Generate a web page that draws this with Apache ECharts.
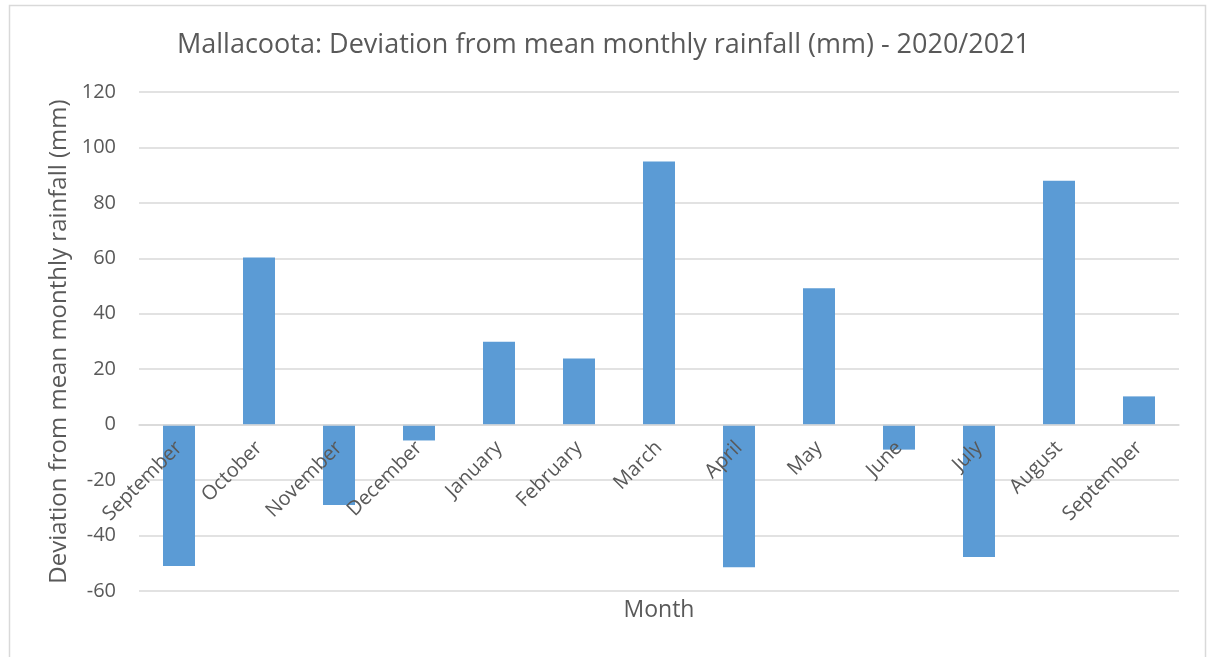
<!DOCTYPE html>
<html>
<head>
<meta charset="utf-8">
<title>Mallacoota rainfall deviation</title>
<script src="https://cdn.jsdelivr.net/npm/echarts@6/dist/echarts.min.js"></script>
<style>
    html, body { margin: 0; padding: 0; background: #fff; }
    #container { width: 1207px; height: 657px; }
</style>
</head>
<body>
<div id="container"></div>
<script>
let months = ['September', 'October', 'November', 'December', 'January', 'February',
    'March', 'April', 'May', 'June', 'July', 'August', 'September'];
let deviation = [-51.0, 60.3, -29.0, -5.7, 29.9, 23.9, 94.9, -51.4, 49.2, -9.0, -47.7, 88.0, 10.2];
let yTicks = [-60, -40, -20, 0, 20, 40, 60, 80, 100, 120];

let textColor = '#595959';
let gridColor = '#d9d9d9';

// plot box, in pixels
let gridTop = 92;
let gridBottom = 66;
let chartHeight = 657;
let yMin = yTicks[0];
let yMax = yTicks[yTicks.length - 1];

// the category axis sits on y = 0, so lift it from the bottom edge of the grid
let plotHeight = chartHeight - gridTop - gridBottom;
let zeroLift = plotHeight * (0 - yMin) / (yMax - yMin);

const dom = document.getElementById("container");
const myChart = echarts.init(dom);
const option = {
    animation: false,
    graphic: [{
        type: 'rect',
        shape: { x: 9.5, y: 5.5, width: 1196, height: 700 },
        style: { fill: 'none', stroke: gridColor, lineWidth: 1.5 }
    }],
    title: {
        text: 'Mallacoota: Deviation from mean monthly rainfall (mm) - 2020/2021',
        left: 'center',
        top: 27,
        textStyle: {
            fontFamily: 'Open Sans',
            fontSize: 27,
            fontWeight: 'normal',
            color: textColor
        }
    },
    grid: {
        left: 139,
        right: 28,
        top: gridTop,
        bottom: gridBottom,
        outerBoundsMode: 'none',
        containLabel: false
    },
    xAxis: {
        type: 'category',
        data: months,
        z: 10,
        position: 'bottom',
        offset: -zeroLift,
        name: 'Month',
        nameLocation: 'middle',
        nameGap: 174,
        nameTextStyle: {
            fontFamily: 'Open Sans',
            fontSize: 23,
            color: textColor
        },
        axisLine: {
            onZero: false,
            lineStyle: { color: gridColor, width: 1.5 }
        },
        axisTick: {
            length: 6,
            lineStyle: { color: gridColor, width: 1.5 }
        },
        axisLabel: {
            rotate: 45,
            margin: 20,
            interval: 0,
            fontFamily: 'Open Sans',
            fontSize: 20,
            color: textColor
        }
    },
    yAxis: {
        type: 'value',
        min: yMin,
        max: yMax,
        interval: 20,
        name: 'Deviation from mean monthly rainfall (mm)',
        nameLocation: 'middle',
        nameGap: 66,
        nameTextStyle: {
            fontFamily: 'Open Sans',
            fontSize: 24,
            color: textColor
        },
        axisLine: { show: false, onZero: false },
        axisTick: { show: false },
        axisLabel: {
            margin: 23,
            fontFamily: 'Open Sans',
            fontSize: 20,
            color: textColor
        },
        splitLine: {
            lineStyle: { color: gridColor, width: 1.5 }
        }
    },
    series: [{
        name: 'Deviation',
        type: 'bar',
        data: deviation,
        barWidth: 32,
        itemStyle: { color: '#5b9bd5' }
    }]
};
if (option && typeof option === "object") {
    myChart.setOption(option, true);
}
</script>
</body>
</html>
